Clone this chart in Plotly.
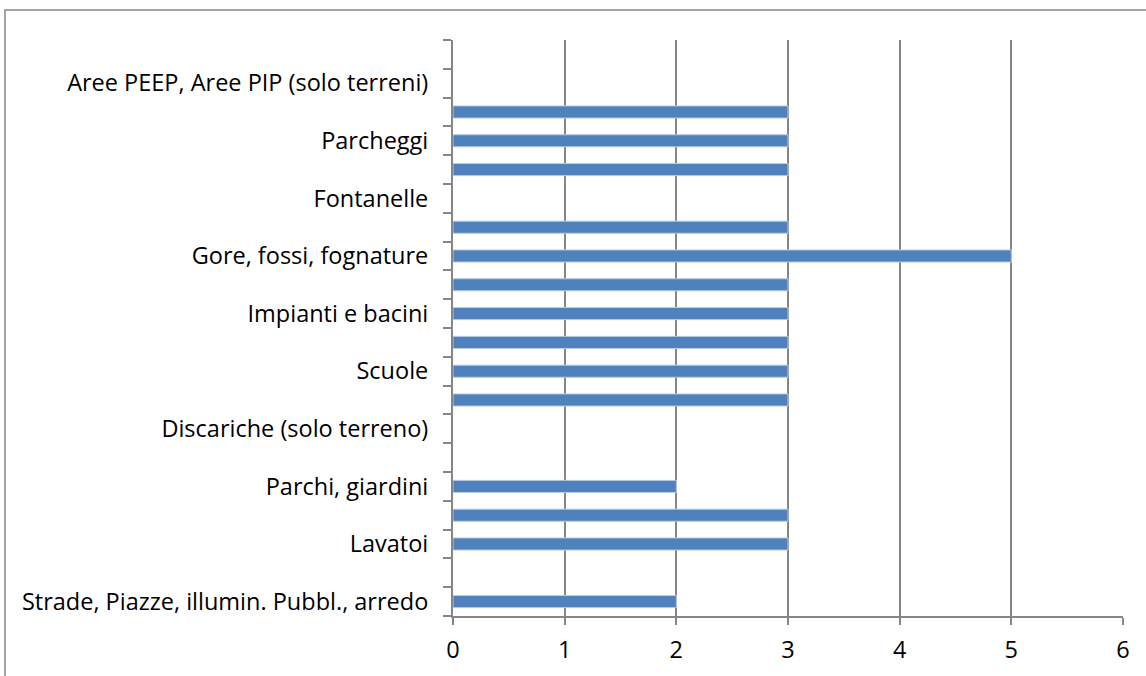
import plotly.graph_objects as go

# Values per row, listed bottom to top (20 rows, every other one labelled)
values = [2, 0, 3, 3, 2, 0, 0, 3, 3, 3, 3, 3, 5, 3, 0, 3, 3, 3, 0, 0]
label_rows = [0, 2, 4, 6, 8, 10, 12, 14, 16, 18]
labels = [
    "Strade, Piazze, illumin. Pubbl., arredo",
    "Lavatoi",
    "Parchi, giardini",
    "Discariche (solo terreno)",
    "Scuole",
    "Impianti e bacini",
    "Gore, fossi, fognature",
    "Fontanelle",
    "Parcheggi",
    "Aree PEEP, Aree PIP (solo terreni)",
]
x_ticks = [0, 1, 2, 3, 4, 5, 6]

AXIS = "#868686"
FONT = "Open Sans, Carlito, Calibri, sans-serif"

rows = list(range(len(values)))
# no outline on empty rows so nothing is drawn there
outline = [1 if v > 0 else 0 for v in values]

fig = go.Figure(
    go.Bar(
        x=values,
        y=rows,
        orientation="h",
        width=0.42,
        marker=dict(color="#4F81BD", line=dict(color="#B9CDE5", width=outline)),
        hoverinfo="x",
    )
)

fig.update_layout(
    width=1146,
    height=676,
    margin=dict(l=453, r=23, t=40, b=60),
    paper_bgcolor="white",
    plot_bgcolor="white",
    showlegend=False,
    font=dict(family=FONT, size=23.5, color="#000000"),
    xaxis=dict(
        range=[0, 6],
        tickvals=x_ticks,
        ticks="outside",
        ticklen=7,
        tickcolor=AXIS,
        tickwidth=2,
        ticklabelstandoff=5,
        showgrid=True,
        gridcolor=AXIS,
        gridwidth=2,
        showline=True,
        linecolor=AXIS,
        linewidth=2,
        zeroline=False,
    ),
    yaxis=dict(
        range=[-0.5, len(values) - 0.5],
        tickvals=label_rows,
        ticktext=labels,
        ticks="outside",
        ticklen=18,
        tickcolor="rgba(0,0,0,0)",
        showgrid=False,
        showline=True,
        linecolor=AXIS,
        linewidth=2,
        zeroline=False,
        minor=dict(
            tick0=-0.5,
            dtick=1,
            ticks="outside",
            ticklen=8,
            tickcolor=AXIS,
            tickwidth=2,
            showgrid=False,
        ),
    ),
    shapes=[
        # chart-area frame
        dict(
            type="rect",
            xref="paper",
            yref="paper",
            x0=(5 - 453) / 670,
            x1=(1160 - 453) / 670,
            y0=(616 - 690) / 576,
            y1=(616 - 10) / 576,
            line=dict(color=AXIS, width=1.5),
            fillcolor="rgba(0,0,0,0)",
            layer="below",
        )
    ],
)

fig.write_html("out.html")
